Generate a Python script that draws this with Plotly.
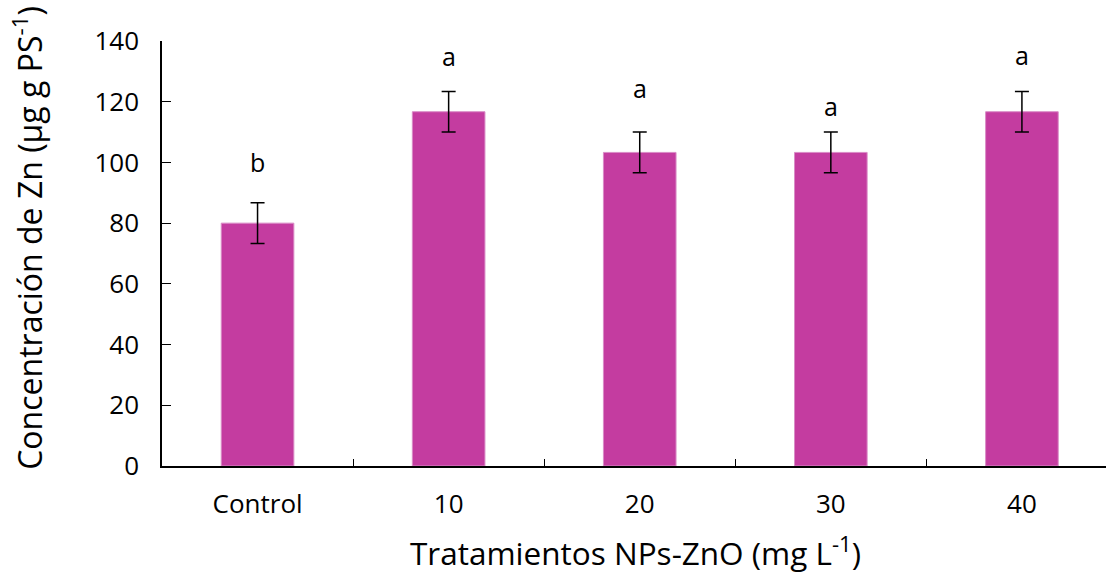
import plotly.graph_objects as go

categories = ["Control", "10", "20", "30", "40"]
values = [80.0, 116.7, 103.3, 103.3, 116.7]
errors = [6.7, 6.7, 6.7, 6.7, 6.7]
letters = ["b", "a", "a", "a", "a"]
letter_y = [100.0, 135.0, 124.5, 118.5, 135.5]
y_ticks = [0, 20, 40, 60, 80, 100, 120, 140]

FONT = "Open Sans"
BAR = "#C43CA0"

fig = go.Figure()
fig.add_trace(go.Bar(
    x=categories, y=values, width=0.38,
    marker=dict(color=BAR, line=dict(color="#D98CC6", width=1)),
    error_y=dict(type="data", array=errors, visible=True, color="black",
                 thickness=1.5, width=7),
    showlegend=False,
))

for i, (t, yy) in enumerate(zip(letters, letter_y)):
    fig.add_annotation(x=i, y=yy, xref="x", yref="y", text=t, showarrow=False,
                       yanchor="middle",
                       font=dict(family=FONT, size=25, color="black"))

# axis titles as annotations for precise placement
fig.add_annotation(text="Concentración de Zn (µg g PS<sup>-1</sup>)",
                   xref="paper", yref="paper", x=-0.143, y=0.537,
                   textangle=-90, showarrow=False,
                   xanchor="center", yanchor="middle",
                   font=dict(family=FONT, size=32, color="black"))
fig.add_annotation(text="Tratamientos NPs-ZnO (mg L<sup>-1</sup>)",
                   xref="paper", yref="paper", x=0.502, y=-0.200,
                   showarrow=False, xanchor="center", yanchor="middle",
                   font=dict(family=FONT, size=31.5, color="black"))

fig.update_layout(
    width=1106, height=574,
    margin=dict(l=162, r=0, t=41, b=108),
    paper_bgcolor="white", plot_bgcolor="white",
    font=dict(family=FONT, color="black"),
)
fig.update_xaxes(
    type="category", range=[-0.5, 4.44],
    showline=True, linecolor="black", linewidth=1.5,
    ticks="inside", tickson="boundaries", ticklen=7, tickcolor="black", tickwidth=1.3,
    tickfont=dict(family=FONT, size=26, color="black"),
    ticklabelstandoff=14,
    showgrid=False,
)
fig.update_yaxes(
    range=[0, 140], tickvals=y_ticks,
    showline=True, linecolor="black", linewidth=1.5,
    ticks="inside", ticklen=9, tickcolor="black", tickwidth=1.3,
    tickfont=dict(family=FONT, size=26, color="black"),
    ticklabelstandoff=16,
    showgrid=False, zeroline=False,
)

fig.write_html("out.html")
